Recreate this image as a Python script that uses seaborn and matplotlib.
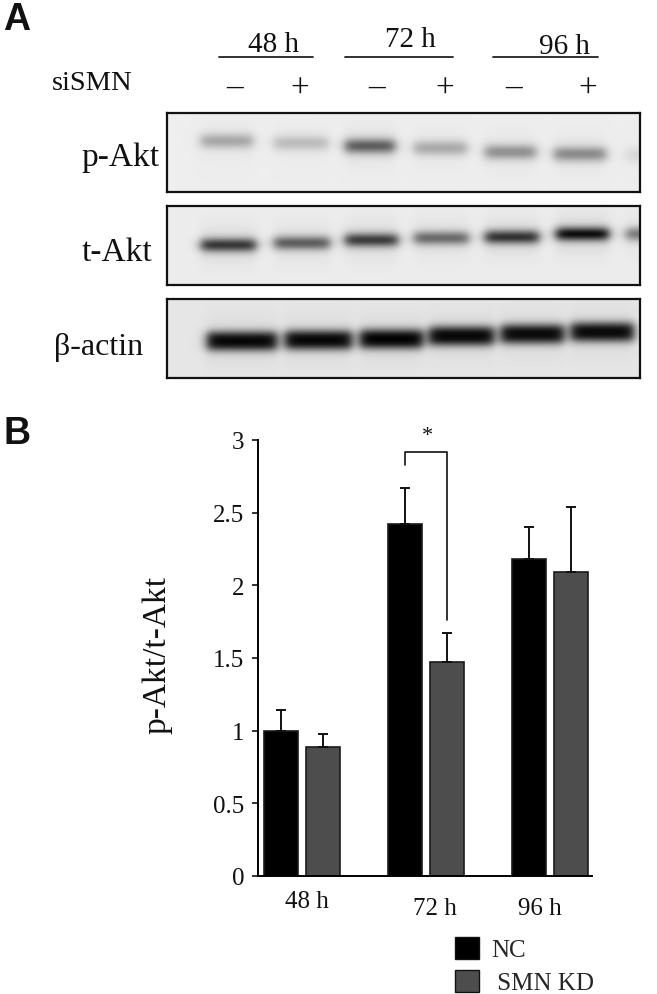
import numpy as np
import pandas as pd
import matplotlib
matplotlib.use("Agg")
import matplotlib.pyplot as plt
from matplotlib.lines import Line2D
from matplotlib.patches import Patch
import seaborn as sns

W, H = 657, 995

times = ["48 h", "72 h", "96 h"]
nc_mean = [1.00, 2.42, 2.18]
kd_mean = [0.89, 1.47, 2.09]
nc_err = [0.14, 0.25, 0.22]
kd_err = [0.09, 0.20, 0.45]
yticks = [0, 0.5, 1, 1.5, 2, 2.5, 3]
yticklabels = ["0", "0.5", "1", "1.5", "2", "2.5", "3"]

# western blot bands: left, right, centre row (px in the picture), darkness
pakt_bands = [(201, 253, 142, .27), (274, 328, 144, .19), (345, 395, 147, .55), (414, 467, 149, .26),
              (485, 536, 153, .36), (554, 606, 155, .38), (626, 650, 156, .09)]
takt_bands = [(201, 256, 246, .70), (274, 330, 244, .55), (345, 398, 241, .68), (414, 469, 239, .50),
              (485, 539, 238, .72), (556, 609, 235, .86), (626, 655, 235, .45)]
actin_bands = [(207, 277, 342, .88), (285, 352, 341, .88), (360, 423, 340, .90), (429, 494, 337, .88),
               (501, 564, 335, .87), (571, 634, 333, .87)]

sns.set_theme(style="white")
plt.rcParams["font.family"] = ["Liberation Serif", "DejaVu Serif"]
plt.rcParams["axes.edgecolor"] = "black"

fig = plt.figure(figsize=(W / 100, H / 100), dpi=100, facecolor="white")


def ax_px(x0, y0, x1, y1):
    return fig.add_axes([x0 / W, 1 - y1 / H, (x1 - x0) / W, (y1 - y0) / H])


def txt(x, y, s, size, ha="center", va="center", **kw):
    fig.text(x / W, 1 - y / H, s, fontsize=size, ha=ha, va=va, color="#111111", **kw)


def blot(y0, y1, bands, sigma, power, bg):
    x0, x1 = 167, 640
    ax = ax_px(x0, y0, x1, y1)
    xs = np.arange(x0, x1) + .5
    ys = np.arange(y0, y1) + .5
    X, Y = np.meshgrid(xs, ys)
    img = np.full(X.shape, bg, dtype=float)
    for a, b, c, d in bands:
        edge = 6.0
        px = 0.5 * (np.tanh((X - a) / edge) - np.tanh((X - b) / edge))
        py = np.exp(-(np.abs(Y - c) / sigma) ** power)
        halo = 0.10 * d * px * np.exp(-((Y - c) / 20.0) ** 2)
        img -= bg * (d * px * py + halo)
    ax.imshow(img, cmap="gray", vmin=0, vmax=1, aspect="auto",
              extent=[x0, x1, y1, y0], interpolation="bilinear")
    ax.set_xticks([])
    ax.set_yticks([])
    for s in ax.spines.values():
        s.set_visible(True)
        s.set_linewidth(1.6)
        s.set_color("#111111")


blot(114, 193, pakt_bands, 7.5, 2, .93)
blot(207, 286, takt_bands, 7.0, 2, .925)
blot(300, 379, actin_bands, 10.0, 2.6, .90)

# panel A annotations
for s, x, y, a, b in [("48 h", 273, 45, 219, 313), ("72 h", 410, 40, 345, 453), ("96 h", 564, 47, 493, 598)]:
    txt(x, y, s, 21)
    fig.add_artist(Line2D([a / W, b / W], [1 - 58 / H] * 2, color="#222222", lw=1.3))
txt(52, 83, "siSMN", 20.5, ha="left")
for x in (235, 377, 514):
    txt(x, 88, "\u2013", 24)
for x in (300, 445, 588):
    txt(x, 90, "+", 24)
txt(160, 158, "p-Akt", 24, ha="right")
txt(152, 253, "t-Akt", 24, ha="right")
txt(143, 348, "\u03b2-actin", 23, ha="right")
txt(3, 20, "A", 27, ha="left", family="Liberation Sans", weight="bold")
txt(4, 434, "B", 27, ha="left", family="Liberation Sans", weight="bold")

# panel B
df = pd.DataFrame({
    "time": times * 2,
    "group": ["NC"] * 3 + ["SMN KD"] * 3,
    "value": nc_mean + kd_mean,
})
ax = ax_px(258, 441, 592, 877)
colors = {"NC": "#000000", "SMN KD": "#4d4d4d"}
sns.barplot(data=df, x="time", y="value", hue="group", palette=colors, order=times,
            width=0.677, gap=0.21, saturation=1, errorbar=None, legend=False, ax=ax,
            edgecolor="#1a1a1a", linewidth=1.2)
ax.set_xlim(-0.355, 2.339)
ax.set_ylim(0, 3)

centres = []
for cont, err in zip(ax.containers, (nc_err, kd_err)):
    xc = [p.get_x() + p.get_width() / 2 for p in cont]
    yv = [p.get_height() for p in cont]
    centres.append(xc)
    ax.errorbar(xc, yv, yerr=[np.zeros(3), err], fmt="none", ecolor="#111111",
                elinewidth=1.4, capsize=3.6, capthick=1.4, zorder=1)

# significance bracket at 72 h
xl, xr = centres[0][1], centres[1][1]
ax.plot([xl, xl, xr, xr], [2.83, 2.92, 2.92, 1.76], color="#111111", lw=1.2, clip_on=False)
ax.text((xl + xr) / 2 + 0.015, 3.03, "*", ha="center", va="center", fontsize=16, color="#111111")

sns.despine(ax=ax)
ax.spines["left"].set_linewidth(1.4)
ax.spines["bottom"].set_linewidth(1.4)
ax.set_yticks(yticks, yticklabels)
ax.tick_params(axis="y", length=4, width=1.2, left=True, pad=6, labelsize=18, colors="#111111")
ax.set_xticks([0.04, 1.07, 1.92], times)
ax.tick_params(axis="x", length=0, labelsize=18, colors="#111111")
xt = ax.xaxis.get_major_ticks()
xt[0].set_pad(10)
xt[1].set_pad(15)
xt[2].set_pad(15)
ax.set_xlabel("")
ax.set_ylabel("")
txt(157, 655, "p-Akt/t-Akt", 24, rotation=90)

handles = [Patch(facecolor=colors["NC"], edgecolor="#111111"),
           Patch(facecolor=colors["SMN KD"], edgecolor="#111111")]
fig.legend(handles, ["NC", " SMN KD"], loc="upper left", bbox_to_anchor=(455 / W, 1 - 938 / H),
           borderaxespad=0, borderpad=0, frameon=False, fontsize=18,
           handlelength=0.95, handleheight=0.95, handletextpad=0.5, labelspacing=0.35)

fig.savefig("out.png", dpi=100, facecolor="white")
